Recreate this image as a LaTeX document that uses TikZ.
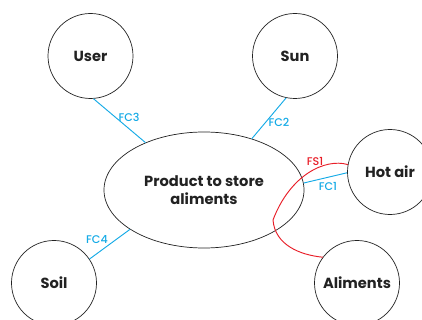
\documentclass[tikz,border=0pt]{standalone}
\usepackage{fontspec}
\setmainfont{Poppins}
\newfontfamily\labelfont{Poppins Medium}
\usetikzlibrary{shapes.geometric}
\definecolor{fcblue}{RGB}{20,170,230}
\definecolor{fsred}{RGB}{232,30,40}
\definecolor{ink}{RGB}{34,34,34}
\tikzset{
  elem/.style={circle, draw=ink, line width=0.6pt, minimum size=2.55cm, inner sep=0pt, font=\bfseries\fontsize{12.5}{14}\selectfont, text=ink},
  fc/.style={fcblue, line width=0.8pt},
  fclabel/.style={fcblue, font=\labelfont\fontsize{9.5}{10}\selectfont, inner sep=1pt},
}
\begin{document}
\begin{tikzpicture}[x=0.03cm, y=-0.03cm]
        % Frame of the picture
        \useasboundingbox (0,0) rectangle (422,320);

        % Product in the middle
        \node[ellipse, draw=ink, line width=0.6pt, minimum width=6cm, minimum height=3.48cm, inner sep=0pt,
              align=center, text=ink, font=\bfseries\fontsize{12.5}{15}\selectfont] (prod) at (204,190)
              {Product to store\\aliments};

        % Outside elements
        \node[elem] (user) at (90.5,56) {User};     % Top-left
        \node[elem] (sun) at (295,56) {Sun};        % Top-right
        \node[elem] (hotair) at (390,172) {Hot air};% Right
        \node[elem] (aliments) at (357,283) {Aliments}; % Bottom-right
        \node[elem] (soil) at (54,283) {Soil};      % Bottom-left

        % Constraint functions
        \draw[fc] (user.-86) -- (prod.141);
        \draw[fc] (sun.-102) -- (prod.47);
        \draw[fc] (hotair.181) -- (prod.4);
        \draw[fc] (soil.34) -- (prod.-152);

        % Service function
        \draw[fsred, line width=0.8pt] (hotair.170) .. controls (325,158) and (290,175) .. (273,220)
              .. controls (275,245) and (300,255) .. (aliments.143);

        % Labels
        \node[fclabel] (fc3) at (129,117) {FC3};
        \node[fclabel] (fc2) at (279,122) {FC2};
        \node[fclabel] (fc1) at (328,186) {FC1};
        \node[fclabel] (fc4) at (97,240) {FC4};
        \node[fclabel, fsred] (fs1) at (315,161) {FS1};
\end{tikzpicture}
\end{document}
